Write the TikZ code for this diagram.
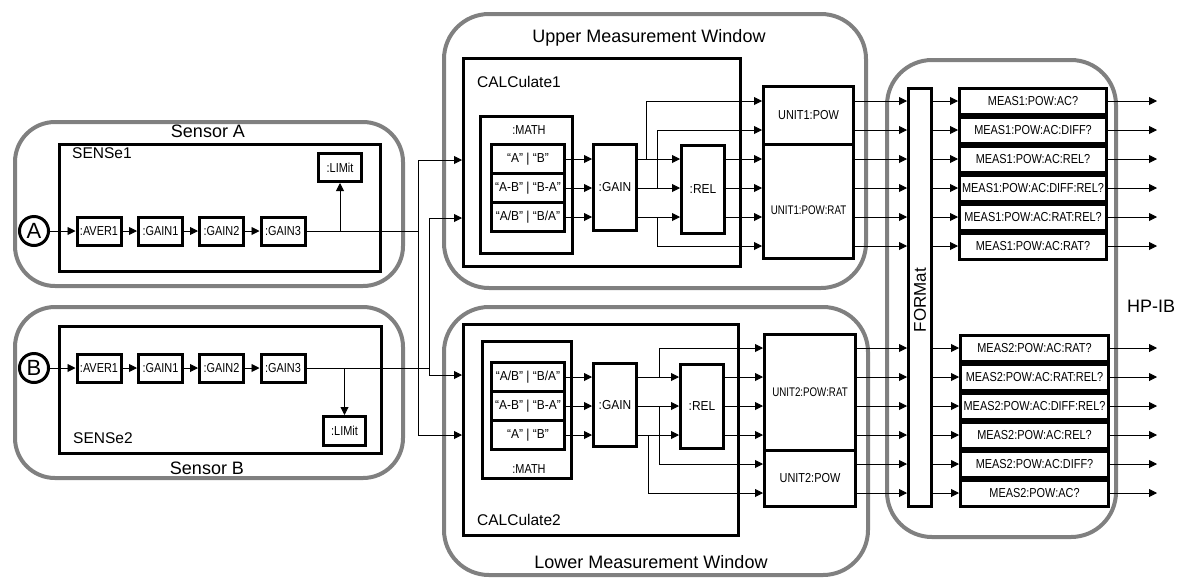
\documentclass[tikz,border=0pt]{standalone}
\usepackage{fontspec}
\setmainfont{Liberation Sans}
\newfontfamily\cndS[FakeStretch=0.84]{Liberation Sans}
\newfontfamily\cndX[FakeStretch=0.78]{Liberation Sans}
\newfontfamily\cndM[FakeStretch=0.92]{Liberation Sans}
\usetikzlibrary{arrows.meta}
\definecolor{grayline}{RGB}{128,128,128}
\begin{document}
\begin{tikzpicture}[x=1pt,y=-1pt,
  grp/.style={draw=grayline, line width=4pt, rounded corners=40pt, inner sep=0pt},
  blk/.style={draw, line width=3pt, inner sep=0pt, align=center},
  arr/.style={line width=0.9pt, -{Triangle[length=8pt,width=8pt]}},
  ln/.style={line width=0.9pt},
  fxs/.style={font=\cndX\fontsize{12.5}{14}\selectfont},
  fs/.style={font=\cndS\fontsize{13}{15}\selectfont},
  fm/.style={font=\cndM\fontsize{13}{15}\selectfont},
  fsub/.style={font=\fontsize{15.5}{18}\selectfont},
  fbig/.style={font=\fontsize{18}{21}\selectfont},
  chain/.style={blk, fs, minimum width=44pt, minimum height=28pt},
  mrow/.style={blk, fm, minimum width=73pt, minimum height=29pt},
  meas/.style={blk, fs, minimum height=26pt}
]
\useasboundingbox (0,0) rectangle (1177,582);

% ---- gray containers
\node[grp, minimum width=388pt, minimum height=164pt] (sensA) at (209,204) {};
\node[grp, minimum width=388pt, minimum height=171pt] (sensB) at (209,392.5) {};
\node[grp, rounded corners=45pt, minimum width=422pt, minimum height=274pt] (upper) at (655,151) {};
\node[grp, rounded corners=45pt, minimum width=424pt, minimum height=268pt] (lower) at (656,441) {};
\node[grp, rounded corners=45pt, minimum width=229pt, minimum height=477pt] (hpib) at (1001.5,298.5) {};

% ---- container labels
\node[fbig, anchor=base] (lsensA) at (208,137.3) {Sensor A};
\node[fbig, anchor=base] (lsensB) at (207,474) {Sensor B};
\node[fbig, anchor=base] (lupper) at (649,42) {Upper Measurement Window};
\node[fbig, anchor=base] (llower) at (651,568) {Lower Measurement Window};
\node[fbig, anchor=base] (lhpib) at (1151,312) {HP-IB};

% ---- sensor blocks
\node[blk, minimum width=321pt, minimum height=127pt] (sense1) at (220,208) {};
\node[blk, minimum width=322pt, minimum height=127pt] (sense2) at (220.5,390) {};
\node[fsub, anchor=base west, inner sep=0pt] (lsense1) at (72,158) {SENSe1};
\node[fsub, anchor=base west, inner sep=0pt] (lsense2) at (73,443) {SENSe2};

\node[circle, draw, line width=3pt, minimum size=29pt, inner sep=0pt, font=\fontsize{22}{24}\selectfont] (cA) at (34,231) {A};
\node[circle, draw, line width=3pt, minimum size=29pt, inner sep=0pt, font=\fontsize{22}{24}\selectfont] (cB) at (34,368) {B};

\node[chain] (avA) at (99,231) {:AVER1};
\node[chain] (gA1) at (160.5,231) {:GAIN1};
\node[chain] (gA2) at (221.5,231) {:GAIN2};
\node[chain] (gA3) at (283,231) {:GAIN3};
\node[chain] (avB) at (99,368) {:AVER1};
\node[chain] (gB1) at (160.5,368) {:GAIN1};
\node[chain] (gB2) at (221.5,368) {:GAIN2};
\node[chain] (gB3) at (283,368) {:GAIN3};
\node[blk, fs, minimum width=43pt, minimum height=28pt] (limA) at (340,167.5) {:LIMit};
\node[blk, fs, minimum width=42pt, minimum height=29pt] (limB) at (344.5,431) {:LIMit};

\draw[arr] (cA) -- (avA);
\draw[arr] (avA) -- (gA1);
\draw[arr] (gA1) -- (gA2);
\draw[arr] (gA2) -- (gA3);
\draw[arr] (cB) -- (avB);
\draw[arr] (avB) -- (gB1);
\draw[arr] (gB1) -- (gB2);
\draw[arr] (gB2) -- (gB3);
\draw[arr] (gA3.east -| limA.south) -- (limA.south);
\draw[arr] (gB3.east -| limB.north) -- (limB.north);

% ---- calculate blocks
\node[blk, minimum width=277pt, minimum height=208pt] (calc1) at (602,162.5) {};
\node[blk, minimum width=275pt, minimum height=211pt] (calc2) at (601,430) {};
\node[fsub, anchor=base west, inner sep=0pt] (lcalc1) at (477,87) {CALCulate1};
\node[fsub, anchor=base west, inner sep=0pt] (lcalc2) at (477,525) {CALCulate2};

\node[blk, minimum width=92pt, minimum height=137pt] (math1) at (526.5,185) {};
\node[blk, minimum width=89pt, minimum height=137pt] (math2) at (527,410) {};
\node[fs, anchor=base] (lmath1) at (529,134) {:MATH};
\node[fs, anchor=base] (lmath2) at (529,473) {:MATH};

\node[mrow] (m1a) at (528,159) {“A” | “B”};
\node[mrow] (m1b) at (528,188) {“A-B” | “B-A”};
\node[mrow] (m1c) at (528,217) {“A/B” | “B/A”};
\node[mrow] (m2a) at (528,377) {“A/B” | “B/A”};
\node[mrow] (m2b) at (528,406) {“A-B” | “B-A”};
\node[mrow] (m2c) at (528,435) {“A” | “B”};

\node[blk, fm, minimum width=43pt, minimum height=86pt] (gain1) at (615,187.5) {:GAIN};
\node[blk, fm, minimum width=43pt, minimum height=88pt] (rel1) at (703,189) {:REL};
\node[blk, fm, minimum width=43pt, minimum height=83pt] (gain2) at (615,405) {:GAIN};
\node[blk, fm, minimum width=43pt, minimum height=84pt] (rel2) at (702,406.5) {:REL};

% ---- unit blocks
\node[blk, fs, minimum width=90pt, minimum height=57.5pt] (unit1pow) at (808.5,115.25) {UNIT1:POW};
\node[blk, minimum width=90pt, minimum height=114.5pt] (unit1rat) at (808.5,201.25) {};
\node[fxs] (lunit1rat) at (808.5,210) {UNIT1:POW:RAT};
\node[blk, fxs, minimum width=91pt, minimum height=115.5pt] (unit2rat) at (810,392.25) {UNIT2:POW:RAT};
\node[blk, fs, minimum width=91pt, minimum height=56.5pt] (unit2pow) at (810,478.25) {UNIT2:POW};

% ---- format
\node[blk, minimum width=23pt, minimum height=418pt] (format) at (920,297.5) {};
\node[rotate=90, font=\fontsize{17}{19}\selectfont] (lformat) at (920,300) {FORMat};

% ---- meas boxes
\node[meas, minimum width=147pt] (s1a) at (1033,101) {MEAS1:POW:AC?};
\node[meas, minimum width=147pt] (s1b) at (1033,130) {MEAS1:POW:AC:DIFF?};
\node[meas, minimum width=147pt] (s1c) at (1033,159) {MEAS1:POW:AC:REL?};
\node[meas, minimum width=147pt] (s1d) at (1033,188) {MEAS1:POW:AC:DIFF:REL?};
\node[meas, minimum width=147pt] (s1e) at (1033,217) {MEAS1:POW:AC:RAT:REL?};
\node[meas, minimum width=147pt] (s1f) at (1033,246) {MEAS1:POW:AC:RAT?};
\node[meas, minimum width=148pt] (s2a) at (1034.5,348) {MEAS2:POW:AC:RAT?};
\node[meas, minimum width=148pt] (s2b) at (1034.5,377) {MEAS2:POW:AC:RAT:REL?};
\node[meas, minimum width=148pt] (s2c) at (1034.5,406) {MEAS2:POW:AC:DIFF:REL?};
\node[meas, minimum width=148pt] (s2d) at (1034.5,435) {MEAS2:POW:AC:REL?};
\node[meas, minimum width=148pt] (s2e) at (1034.5,464) {MEAS2:POW:AC:DIFF?};
\node[meas, minimum width=148pt] (s2f) at (1034.5,493) {MEAS2:POW:AC?};

% ---- helper coordinates
\coordinate (busA) at (418,0);
\coordinate (busB) at (429,0);
\coordinate (yA1) at (0,160);
\coordinate (yB1) at (0,218);
\coordinate (yB2) at (0,375);
\coordinate (yA2) at (0,435);
\coordinate (bx1) at (646,0);
\coordinate (bx2) at (657,0);
\coordinate (bx3) at (659,0);
\coordinate (bx4) at (648,0);
\coordinate (outx) at (1157,0);

% ---- sensor to calculate buses
\draw[ln] (gA3.east) -- (gA3.east -| busA);
\draw[arr] (gA3.east -| busA) |- (calc1.west |- yA1);
\draw[arr] (gA3.east -| busA) |- (calc2.west |- yA2);
\draw[ln] (gB3.east) -- (gB3.east -| busB);
\draw[arr] (gB3.east -| busB) |- (calc1.west |- yB1);
\draw[arr] (gB3.east -| busB) |- (calc2.west |- yB2);

% ---- upper calc flow
\foreach \r in {m1a,m1b,m1c}{
  \draw[arr] (\r.east) -- (\r.east -| gain1.west);
  \draw[arr] (\r.east -| gain1.east) -- (\r.east -| rel1.west);
  \draw[arr] (\r.east -| rel1.east) -- (\r.east -| unit1rat.west);
}
\draw[arr] (m1a.east -| bx1) |- (unit1pow.west |- s1a);
\draw[arr] (m1b.east -| bx2) |- (unit1pow.west |- s1b);
\draw[arr] (m1c.east -| bx2) |- (unit1rat.west |- s1f);

% ---- lower calc flow
\foreach \r in {m2a,m2b,m2c}{
  \draw[arr] (\r.east) -- (\r.east -| gain2.west);
  \draw[arr] (\r.east -| gain2.east) -- (\r.east -| rel2.west);
  \draw[arr] (\r.east -| rel2.east) -- (\r.east -| unit2rat.west);
}
\draw[arr] (m2a.east -| bx3) |- (unit2rat.west |- s2a);
\draw[arr] (m2b.east -| bx3) |- (unit2pow.west |- s2e);
\draw[arr] (m2c.east -| bx4) |- (unit2pow.west |- s2f);

% ---- units to format to meas to output
\foreach \r in {s1a,s1b}{
  \draw[arr] (unit1pow.east |- \r) -- (format.west |- \r);
}
\foreach \r in {s1c,s1d,s1e,s1f}{
  \draw[arr] (unit1rat.east |- \r) -- (format.west |- \r);
}
\foreach \r in {s2a,s2b,s2c,s2d}{
  \draw[arr] (unit2rat.east |- \r) -- (format.west |- \r);
}
\foreach \r in {s2e,s2f}{
  \draw[arr] (unit2pow.east |- \r) -- (format.west |- \r);
}
\foreach \r in {s1a,s1b,s1c,s1d,s1e,s1f,s2a,s2b,s2c,s2d,s2e,s2f}{
  \draw[arr] (format.east |- \r) -- (\r.west);
  \draw[arr] (\r.east) -- (\r -| outx);
}
\end{tikzpicture}
\end{document}
